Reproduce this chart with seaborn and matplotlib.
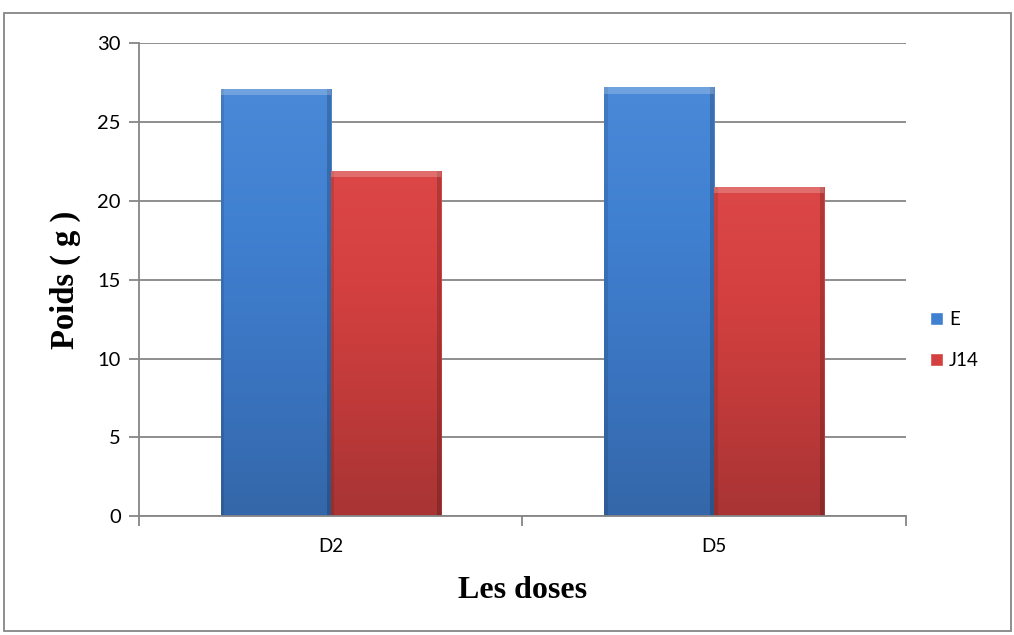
import numpy as np
import pandas as pd
import matplotlib
matplotlib.use("Agg")
import matplotlib.pyplot as plt
from matplotlib.patches import Rectangle
from matplotlib.colors import LinearSegmentedColormap
import seaborn as sns

# Data
doses = ["D2", "D5"]
series_names = ["E", "J14"]
values_E = [27.1, 27.2]
values_J14 = [21.9, 20.9]
y_ticks = [0, 5, 10, 15, 20, 25, 30]

df = pd.DataFrame({
    "dose": doses * 2,
    "serie": [series_names[0]] * len(doses) + [series_names[1]] * len(doses),
    "poids": values_E + values_J14,
})

sns.set_theme(style="white")
plt.rcParams["font.family"] = ["Lato", "DejaVu Sans"]
plt.rcParams["text.color"] = "black"
plt.rcParams["xtick.color"] = "black"
plt.rcParams["ytick.color"] = "black"
plt.rcParams["axes.labelcolor"] = "black"

palette = {"E": "#4080D0", "J14": "#D44040"}
shades = {
    "E": ["#4A89D8", "#4080D0", "#3A74C0", "#3467A9"],
    "J14": ["#DC4646", "#D44040", "#C03A3A", "#A83434"],
}

fig = plt.figure(figsize=(10.14, 6.35), dpi=100)
ax = fig.add_axes([0.137, 0.187, 0.756, 0.745])

sns.barplot(data=df, x="dose", y="poids", hue="serie", palette=palette,
            width=0.574, gap=0, errorbar=None, ax=ax, legend=True,
            saturation=1)

# Shaded fill on each bar, clipped to the bar outline
grad = np.linspace(0, 1, 256).reshape(-1, 1)
for container, name in zip(ax.containers, series_names):
    cmap = LinearSegmentedColormap.from_list(name, shades[name])
    for bar in container:
        x0, y0 = bar.get_x(), bar.get_y()
        w, h = bar.get_width(), bar.get_height()
        z = bar.get_zorder()
        im = ax.imshow(grad, cmap=cmap, aspect="auto", origin="upper",
                       extent=(x0, x0 + w, y0, y0 + h), zorder=z + 0.1)
        im.set_clip_path(bar)
        # dark side edges and a light top rim
        ax.add_patch(Rectangle((x0, y0), w * 0.035, h, color="black", alpha=0.10,
                               lw=0, zorder=z + 0.2))
        ax.add_patch(Rectangle((x0 + w * 0.965, y0), w * 0.035, h, color="black",
                               alpha=0.18, lw=0, zorder=z + 0.2))
        ax.add_patch(Rectangle((x0, y0 + h - 0.4), w, 0.4, color="white",
                               alpha=0.22, lw=0, zorder=z + 0.2))
        bar.set_edgecolor("none")

ax.set_xlim(-0.5, len(doses) - 0.5)
ax.set_ylim(0, 30)
ax.set_yticks(y_ticks)
ax.yaxis.grid(True, color="#868686", linewidth=1.3)
ax.set_axisbelow(True)

for side in ["top", "right"]:
    ax.spines[side].set_visible(False)
for side in ["left", "bottom"]:
    ax.spines[side].set_color("#868686")
    ax.spines[side].set_linewidth(1.3)

# category boundary tick marks on x, label ticks hidden
ax.set_xticks(range(len(doses)))
ax.set_xticklabels(doses)
ax.set_xticks([-0.5, 0.5, 1.5], minor=True)
ax.tick_params(axis="x", which="major", length=0, pad=16, labelsize=13.5)
ax.tick_params(axis="x", which="minor", length=7, width=1.3, color="#868686",
               direction="out", bottom=True)
ax.tick_params(axis="y", length=7, width=1.3, color="#868686", direction="out",
               left=True, labelsize=14.5, labelcolor="black", pad=6)

ax.set_xlabel("Les doses", family="Liberation Serif", fontweight="bold",
              fontsize=23, labelpad=15)
ax.set_ylabel("Poids ( g )", family="Liberation Serif", fontweight="bold",
              fontsize=23.5, labelpad=12)

# Legend to the right of the plot
handles, labels = ax.get_legend_handles_labels()
ax.legend(handles, labels, loc="center left", bbox_to_anchor=(1.01, 0.372),
          frameon=False, fontsize=13.5, handlelength=0.7, handleheight=0.7,
          handletextpad=0.3, labelspacing=1.3)

# Chart border
fig.patches.append(Rectangle((0.004, 0.006), 0.993, 0.973, transform=fig.transFigure,
                             fill=False, edgecolor="#868686", linewidth=1.3))

fig.savefig("out.png", dpi=100)
